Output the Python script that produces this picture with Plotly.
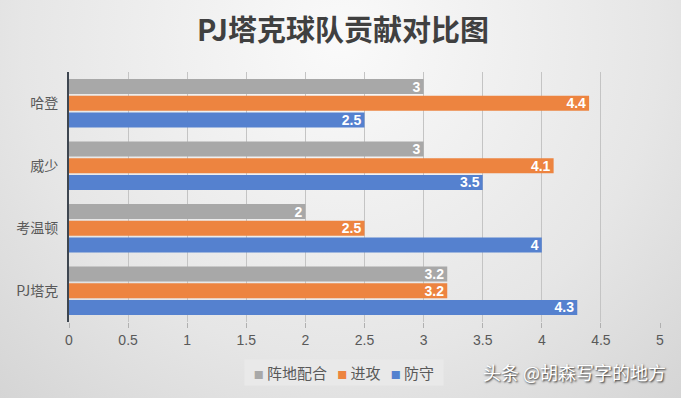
import base64
import plotly.graph_objects as go

categories = ["PJ塔克", "考温顿", "威少", "哈登"]
zhendi = [3.2, 2, 3, 3]      # 阵地配合
jingong = [3.2, 2.5, 4.1, 4.4]  # 进攻
fangshou = [4.3, 4, 3.5, 2.5]   # 防守
x_ticks = [0, 0.5, 1, 1.5, 2, 2.5, 3, 3.5, 4, 4.5, 5]

series = [("防守", fangshou, "#5581cf"),
          ("进攻", jingong, "#ed8440"),
          ("阵地配合", zhendi, "#a8a8a8")]

W, H = 681, 398
ML, MR, MT, MB = 69, 21, 72, 76
PW, PH = W - ML - MR, H - MT - MB

svg = f'''<svg xmlns="http://www.w3.org/2000/svg" width="{W}" height="{H}" viewBox="0 0 {W} {H}" preserveAspectRatio="none">
<defs><radialGradient id="g" cx="0.5" cy="0.1" r="0.85" gradientTransform="translate(0.5 0.1) scale(1 1.7) translate(-0.5 -0.1)">
<stop offset="0" stop-color="#fafafa"/><stop offset="0.55" stop-color="#e6e6e6"/><stop offset="1" stop-color="#cdcdcd"/></radialGradient></defs>
<rect width="{W}" height="{H}" fill="url(#g)"/></svg>'''
bg_src = "data:image/svg+xml;base64," + base64.b64encode(svg.encode()).decode()

label_font = dict(family="Liberation Sans Narrow, Liberation Sans, Arial", size=14,
                  color="white", weight="bold")

fig = go.Figure()
for name, vals, color in series:
    fig.add_trace(go.Bar(
        y=categories, x=vals, name=name, orientation="h",
        marker=dict(color=color, line=dict(width=0)),
        text=[f"{v:g}" for v in vals], textposition="inside", textangle=0,
        insidetextanchor="end", textfont=dict(label_font),
        hoverinfo="x+name", showlegend=False,
    ))

NB = "\u00a0"
legend_text = NB * 2 + (NB * 3).join(
    f'<span style="color:{c};font-size:10px">■</span>{NB}{n}' for n, _, c in reversed(series)) + NB * 2

fig.update_layout(
    width=W, height=H,
    margin=dict(l=ML, r=MR, t=MT, b=MB),
    paper_bgcolor="#e2e2e2", plot_bgcolor="rgba(0,0,0,0)",
    barmode="group", bargap=0.2, bargroupgap=0.1,
    uniformtext=dict(minsize=14, mode="show"),
    font=dict(family="Noto Sans CJK SC, sans-serif", color="#595959"),
    title=dict(text="<b>PJ塔克球队贡献对比图</b>", x=343 / W, xref="container", xanchor="center",
               y=1 - 31 / H, yanchor="middle",
               font=dict(size=29, color="#404040", family="Noto Sans CJK SC")),
    xaxis=dict(range=[0, 5], tickvals=x_ticks, ticktext=[f"{t:g}" for t in x_ticks],
               showgrid=True, gridcolor="#c4c4c4", gridwidth=1, zeroline=False,
               showline=False, ticks="outside", ticklen=5, tickcolor="#b0b0b0",
               automargin=False,
               tickfont=dict(size=14, color="#595959", family="Liberation Sans, Arial")),
    yaxis=dict(categoryorder="array", categoryarray=categories, showgrid=False,
               showline=True, linecolor="#3e4650", linewidth=2, ticks="",
               automargin=False,
               tickfont=dict(size=14, color="#595959"), ticklabelstandoff=6),
    showlegend=False,
    images=[dict(source=bg_src, xref="paper", yref="paper", x=-ML / PW, y=1 + MT / PH,
                 sizex=W / PW, sizey=H / PH, sizing="stretch", layer="below",
                 xanchor="left", yanchor="top")],
    annotations=[
        dict(text=legend_text, xref="paper", yref="paper",
             x=(344 - ML) / PW, y=(PH - (372 - MT)) / PH, xanchor="center", yanchor="middle",
             showarrow=False, bgcolor="#e9e9e9", borderpad=2,
             font=dict(size=15, color="#595959", family="Noto Sans CJK SC")),
        dict(text="头条 @胡森写字的地方", xref="paper", yref="paper",
             x=(668 - ML) / PW, y=(PH - (372 - MT)) / PH, xanchor="right", yanchor="middle",
             showarrow=False,
             font=dict(size=18, color="white", family="Noto Sans CJK SC",
                       shadow="1px 1px 2px #222")),
    ],
)

fig.write_html("out.html", config={"displayModeBar": False},
               post_script="document.body.style.margin='0';")
